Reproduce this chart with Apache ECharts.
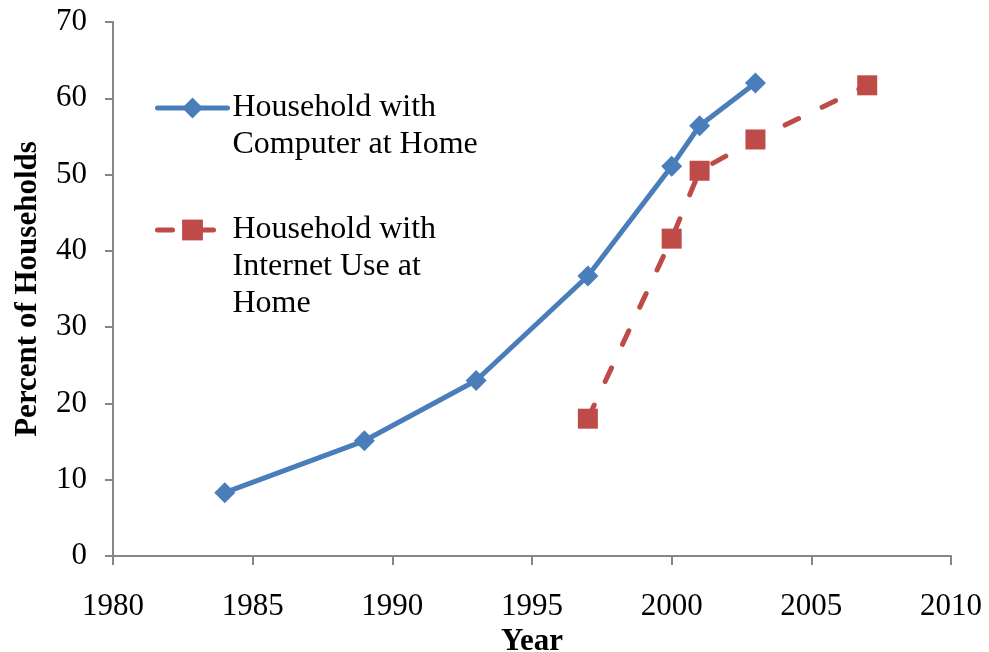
<!DOCTYPE html>
<html>
<head>
<meta charset="utf-8">
<script src="https://cdn.jsdelivr.net/npm/echarts@6/dist/echarts.min.js"></script>
<style>
  html, body { margin: 0; padding: 0; background: #fff; }
  #chart { width: 989px; height: 652px; }
</style>
</head>
<body>
<div id="chart"></div>
<script>
// Share of households with a computer / internet use at home, by year
const computerYears = [1984, 1989, 1993, 1997, 2000, 2001, 2003];
const computerPct   = [8.3, 15.1, 23.0, 36.7, 51.1, 56.4, 62.0];
const internetYears = [1997, 2000, 2001, 2003, 2007];
const internetPct   = [18.0, 41.6, 50.5, 54.6, 61.7];

const computerName = 'Household with Computer at Home';
const internetName = 'Household with Internet Use at Home';
// legend text, split over lines
const computerLegendLines = ['Household with', 'Computer at Home'];
const internetLegendLines = ['Household with', 'Internet Use at', 'Home'];

const FONT = '"Liberation Serif", "Times New Roman", serif';
const AXIS_GREY = '#868686';
const BLUE = '#4A7EBB';
const RED = '#BE4B48';

function pairs(xs, ys) { return xs.map((x, i) => [x, ys[i]]); }

// leading blank lines keep the legend icon level with the first text line
function legendText(lines) {
  return '\n'.repeat(lines.length - 1) + lines.join('\n');
}

const legendCommon = {
  orient: 'vertical',
  left: 155,
  padding: 0,
  itemWidth: 70,
  itemHeight: 26,
  selectedMode: false,
  lineStyle: { width: 5, cap: 'round' },
  textStyle: { fontFamily: FONT, fontSize: 32, lineHeight: 37, color: '#000' }
};

const chart = echarts.init(document.getElementById('chart'));
chart.setOption({
  animation: false,
  backgroundColor: '#fff',
  grid: { left: 113, right: 38, top: 22, bottom: 96, containLabel: false, outerBoundsMode: 'none' },
  legend: [
    Object.assign({}, legendCommon, {
      top: 52.5,
      data: [computerName],
      formatter: () => legendText(computerLegendLines)
    }),
    Object.assign({}, legendCommon, {
      top: 137.5,
      data: [internetName],
      formatter: () => legendText(internetLegendLines)
    })
  ],
  xAxis: {
    type: 'value',
    min: 1980, max: 2010, interval: 5,
    name: 'Year',
    nameLocation: 'middle',
    nameGap: 60,
    nameTextStyle: { fontFamily: FONT, fontSize: 31, fontWeight: 'bold', color: '#000' },
    axisLine: { show: true, lineStyle: { color: AXIS_GREY, width: 2 } },
    axisTick: { show: true, inside: false, length: 9, lineStyle: { color: AXIS_GREY, width: 2 } },
    axisLabel: { fontFamily: FONT, fontSize: 31, color: '#000', margin: 35, formatter: v => String(v) },
    splitLine: { show: false }
  },
  yAxis: {
    type: 'value',
    min: 0, max: 70, interval: 10,
    name: 'Percent of Households',
    nameLocation: 'middle',
    nameGap: 70,
    nameTextStyle: { fontFamily: FONT, fontSize: 31, fontWeight: 'bold', color: '#000' },
    axisLine: { show: true, lineStyle: { color: AXIS_GREY, width: 2 } },
    axisTick: { show: true, inside: false, length: 8, lineStyle: { color: AXIS_GREY, width: 2 } },
    axisLabel: { fontFamily: FONT, fontSize: 31, color: '#000', margin: 26 },
    splitLine: { show: false }
  },
  series: [
    {
      name: computerName,
      type: 'line',
      data: pairs(computerYears, computerPct),
      symbol: 'diamond',
      symbolSize: 21,
      itemStyle: { color: BLUE },
      lineStyle: { color: BLUE, width: 5, cap: 'round', join: 'round' },
      z: 3
    },
    {
      name: internetName,
      type: 'line',
      data: pairs(internetYears, internetPct),
      symbol: 'rect',
      symbolSize: 20,
      itemStyle: { color: RED },
      lineStyle: { color: RED, width: 5, type: [15, 26], cap: 'round', join: 'round' },
      z: 2
    }
  ]
});
</script>
</body>
</html>
